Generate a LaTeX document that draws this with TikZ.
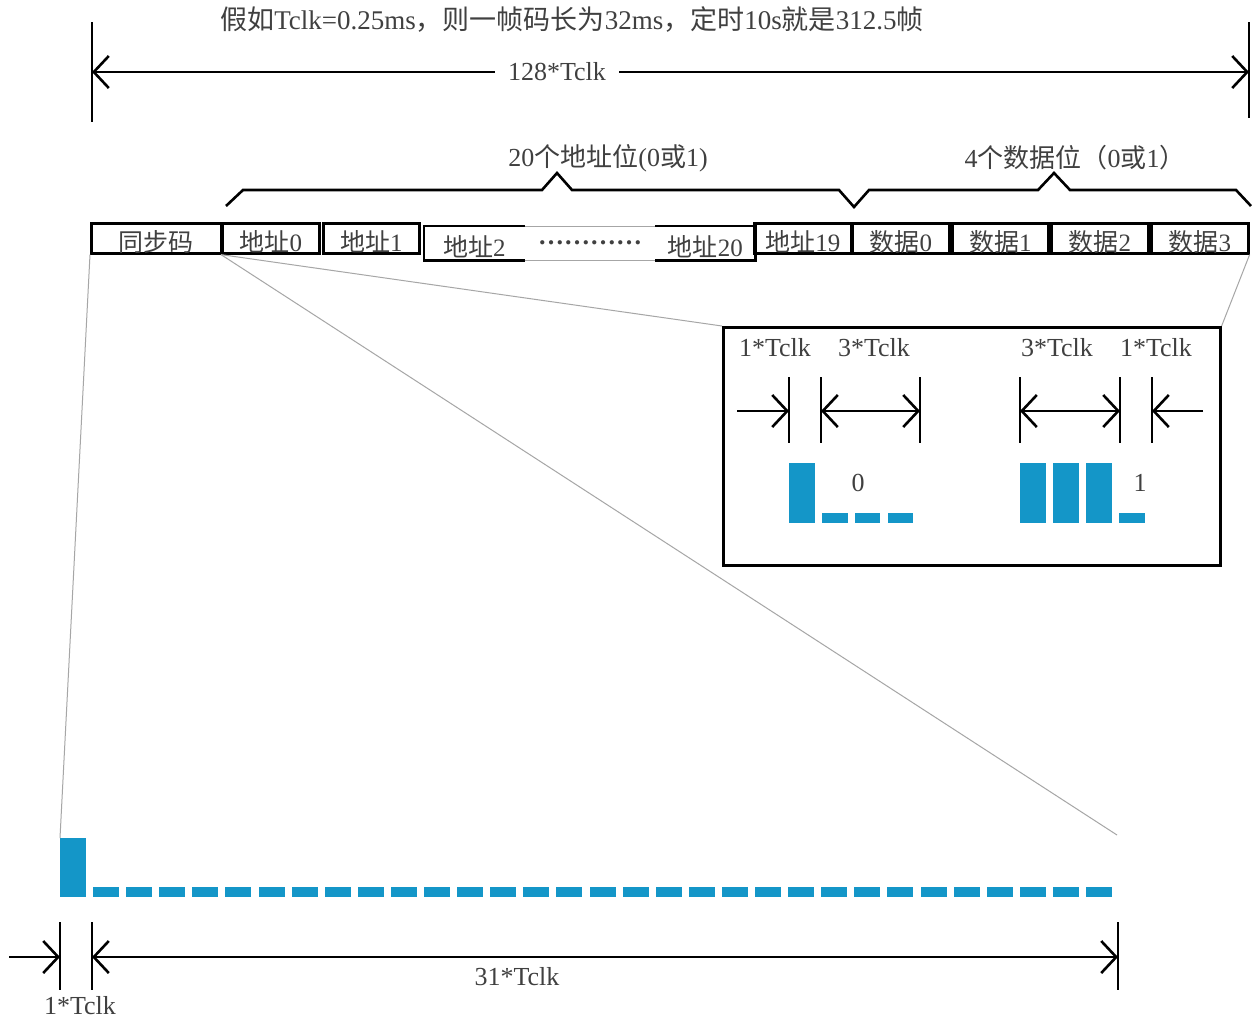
\documentclass[tikz,border=0pt]{standalone}
\usepackage{fontspec}
\setmainfont{Liberation Serif}
\newfontfamily\cjkf{Noto Sans CJK SC}
\newcommand{\zhx}[1]{{\cjkf #1}}
\usetikzlibrary{arrows.meta}
\definecolor{pulse}{HTML}{1496C8}
\definecolor{txt}{HTML}{404040}
\tikzset{
  lbl/.style={text=txt, font=\fontsize{26}{30}\selectfont, inner sep=0pt},
  fbox/.style={draw, line width=2.6pt, minimum height=30pt, inner sep=0pt,
    anchor=north west, text=txt, font=\fontsize{25}{30}\selectfont,
    text height=27pt, text depth=0pt},
  fgroup/.style={fbox, draw=none, minimum height=32pt},
  thickline/.style={line width=2.6pt},
  gline/.style={line width=1pt, draw=black!35},
  tickline/.style={line width=2.6pt},
  dimboth/.style={line width=2.6pt,
    {Straight Barb[length=15pt,width=32pt]}-{Straight Barb[length=15pt,width=32pt]}},
  dimto/.style={line width=2.6pt, -{Straight Barb[length=15pt,width=32pt]}},
  bar/.style={fill=pulse, draw=none, inner sep=0pt, anchor=north west},
}
\begin{document}
\begin{tikzpicture}[x=1pt,y=-1pt]
\useasboundingbox (0,0) rectangle (1252,1021);
\fill[white] (0,0) rectangle (1252,1021);

% ---- title and total length
\node[lbl, font=\fontsize{27}{30}\selectfont] (title) at (572,20)
  {\zhx{假如}Tclk=0.25ms\zhx{，则一帧码长为}32ms\zhx{，定时}10s\zhx{就是}312.5\zhx{帧}};
\coordinate (T1a) at (92,22);   \coordinate (T1b) at (92,122);
\coordinate (T2a) at (1249,22); \coordinate (T2b) at (1249,118);
\draw[tickline] (T1a) -- (T1b);
\draw[tickline] (T2a) -- (T2b);
\coordinate (TL) at (92,72); \coordinate (TR) at (1249,72);
\draw[dimboth] (TL) -- (TR);
\node[lbl, fill=white, inner xsep=13pt, inner ysep=4pt] (t128) at (557,72) {128*Tclk};

% ---- braces
\draw[thickline, line join=miter] (226,206) -- (243,190) -- (542,190) -- (557,173) -- (572,190)
  -- (839,190) -- (854,207) -- (869,190) -- (1038,190) -- (1054,173) -- (1070,190)
  -- (1236,190) -- (1251,206);
\node[lbl] (addrlbl) at (608,158) {20\zhx{个地址位}(0\zhx{或}1)};
\node[lbl] (datalbl) at (1075,158) {4\zhx{个数据位（}0\zhx{或}1\zhx{）}};

% ---- frame boxes
\node[fbox, minimum width=130pt] (sync) at (90,222) {\zhx{同步码}};
\node[fbox, minimum width=97pt] (a0) at (221,222) {\zhx{地址}0};
\node[fbox, minimum width=96pt] (a1) at (322,222) {\zhx{地址}1};
\node[fgroup, minimum width=98pt] (a2) at (424,226) {\zhx{地址}2};
\node[fgroup, minimum width=98pt] (a20) at (655,226) {\zhx{地址}20};
\draw[thickline] (a2.north east) -- (a2.north west) -- (a2.south west) -- (a2.south east);
\draw[thickline] (a20.north west) -- (a20.north east) -- (a20.south east) -- (a20.south west);
\draw[gline] (a2.north east) -- (a20.north west);
\draw[gline] (a2.south east) -- (a20.south west);
\node[lbl] (dots) at (590,243) {\textbf{…………}};
\node[fbox, minimum width=97pt] (a19) at (753,222) {\zhx{地址}19};
\node[fbox, minimum width=97pt] (d0) at (851,222) {\zhx{数据}0};
\node[fbox, minimum width=96pt] (d1) at (951,222) {\zhx{数据}1};
\node[fbox, minimum width=97pt] (d2) at (1050,222) {\zhx{数据}2};
\node[fbox, minimum width=97pt] (d3) at (1150,222) {\zhx{数据}3};

% ---- inset
\node[draw, line width=2.6pt, minimum width=497pt, minimum height=238pt,
  anchor=north west, inner sep=0pt] (inset) at (722,326) {};
\node[lbl] (i1) at (775,348) {1*Tclk};
\node[lbl] (i2) at (874,348) {3*Tclk};
\node[lbl] (i3) at (1057,348) {3*Tclk};
\node[lbl] (i4) at (1156,348) {1*Tclk};
\foreach \x in {789,821,920,1020,1120,1152}
  \draw[tickline] (\x,377) -- (\x,443);
\coordinate (ia) at (737,411);  \coordinate (ib) at (789,411);
\coordinate (ic) at (821,411);  \coordinate (id) at (920,411);
\coordinate (ie) at (1020,411); \coordinate (if) at (1120,411);
\coordinate (ig) at (1203,411); \coordinate (ih) at (1152,411);
\draw[dimto] (ia) -- (ib);
\draw[dimboth] (ic) -- (id);
\draw[dimboth] (ie) -- (if);
\draw[dimto] (ig) -- (ih);
% zero
\fill[pulse] (789,463) rectangle (815,523);
\fill[pulse] (822,513) rectangle (848,523);
\fill[pulse] (855,513) rectangle (880,523);
\fill[pulse] (888,513) rectangle (913,523);
\node[lbl] (zero) at (858,483) {0};
% one
\fill[pulse] (1020,463) rectangle (1046,523);
\fill[pulse] (1053,463) rectangle (1079,523);
\fill[pulse] (1086,463) rectangle (1112,523);
\fill[pulse] (1119,513) rectangle (1145,523);
\node[lbl] (one) at (1140,483) {1};

% ---- bottom sync code
\node[bar, minimum width=26pt, minimum height=59pt] (big) at (60,838) {};
\foreach \i in {0,...,30}
  \fill[pulse] ({93+\i*33.1},887) rectangle ++(26,10);
\coordinate (zend) at (1117,835);

% ---- zoom lines
\draw[gline] (sync.south west) -- (big.north west);
\draw[gline] (a0.south west) -- (inset.north west);
\draw[gline] (a0.south west) -- (zend);
\draw[gline] (d3.south east) -- (inset.north east);

% ---- bottom dimensions
\foreach \x in {60,92,1118}
  \draw[tickline] (\x,922) -- (\x,990);
\coordinate (ba) at (9,957);   \coordinate (bb) at (60,957);
\coordinate (bc) at (92,957);  \coordinate (bd) at (1118,957);
\draw[dimto] (ba) -- (bb);
\draw[dimboth] (bc) -- (bd);
\node[lbl] (b31) at (517,977) {31*Tclk};
\node[lbl] (b1) at (80,1006) {1*Tclk};
\end{tikzpicture}
\end{document}
